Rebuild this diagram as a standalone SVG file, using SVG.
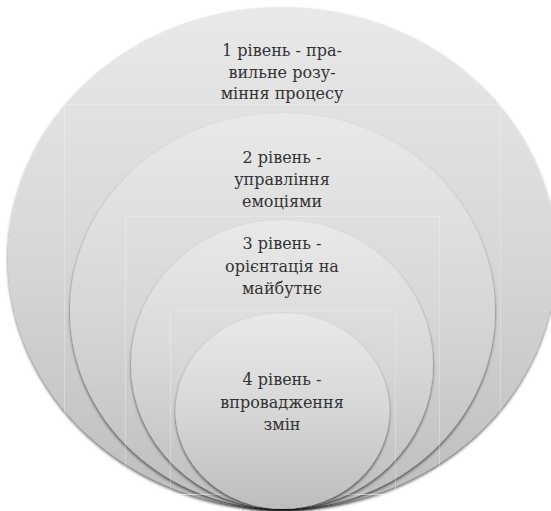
<svg xmlns="http://www.w3.org/2000/svg" width="551" height="511" viewBox="0 0 551 511">
<defs>
<linearGradient id="g" x1="0" y1="0" x2="0" y2="1">
<stop offset="0" stop-color="#e9e9e9"/>
<stop offset="0.5" stop-color="#d7d7d7"/>
<stop offset="1" stop-color="#bdbdbd"/>
</linearGradient>
<filter id="sh" x="-10%" y="-10%" width="120%" height="125%">
<feDropShadow dx="0" dy="2" stdDeviation="1.8" flood-color="#000" flood-opacity="0.6"/>
</filter>
</defs>
<style>
.c{fill:url(#g);filter:url(#sh)}
.f{fill:none;stroke:#ffffff;stroke-opacity:0.25;stroke-width:1}
.t{font-family:'DejaVu Serif',serif;font-size:16px;fill:#333333;text-anchor:middle}
</style>
<g id="level1">
<ellipse class="c" cx="282" cy="258" rx="274" ry="251"/>
<rect class="f" x="64.5" y="104.5" width="436" height="390"/>
<text class="t" x="282" y="56">1 рівень - пра-</text>
<text class="t" x="282" y="77.5">вильне розу-</text>
<text class="t" x="282" y="99">міння процесу</text>
</g>
<g id="level2">
<ellipse class="c" cx="282.5" cy="311" rx="212.5" ry="198"/>
<rect class="f" x="125.5" y="216.5" width="314" height="278"/>
<text class="t" x="282" y="163">2 рівень -</text>
<text class="t" x="282" y="185">управління</text>
<text class="t" x="282" y="207">емоціями</text>
</g>
<g id="level3">
<ellipse class="c" cx="282" cy="364.5" rx="151" ry="144.5"/>
<rect class="f" x="170.5" y="310.5" width="225" height="184"/>
<text class="t" x="282" y="249">3 рівень -</text>
<text class="t" x="282" y="272">орієнтація на</text>
<text class="t" x="282" y="294">майбутнє</text>
</g>
<g id="level4">
<ellipse class="c" cx="282.5" cy="411" rx="107" ry="98"/>
<text class="t" x="282" y="385">4 рівень -</text>
<text class="t" x="282" y="408">впровадження</text>
<text class="t" x="282" y="430">змін</text>
</g>
<g id="connectors"/>
</svg>
